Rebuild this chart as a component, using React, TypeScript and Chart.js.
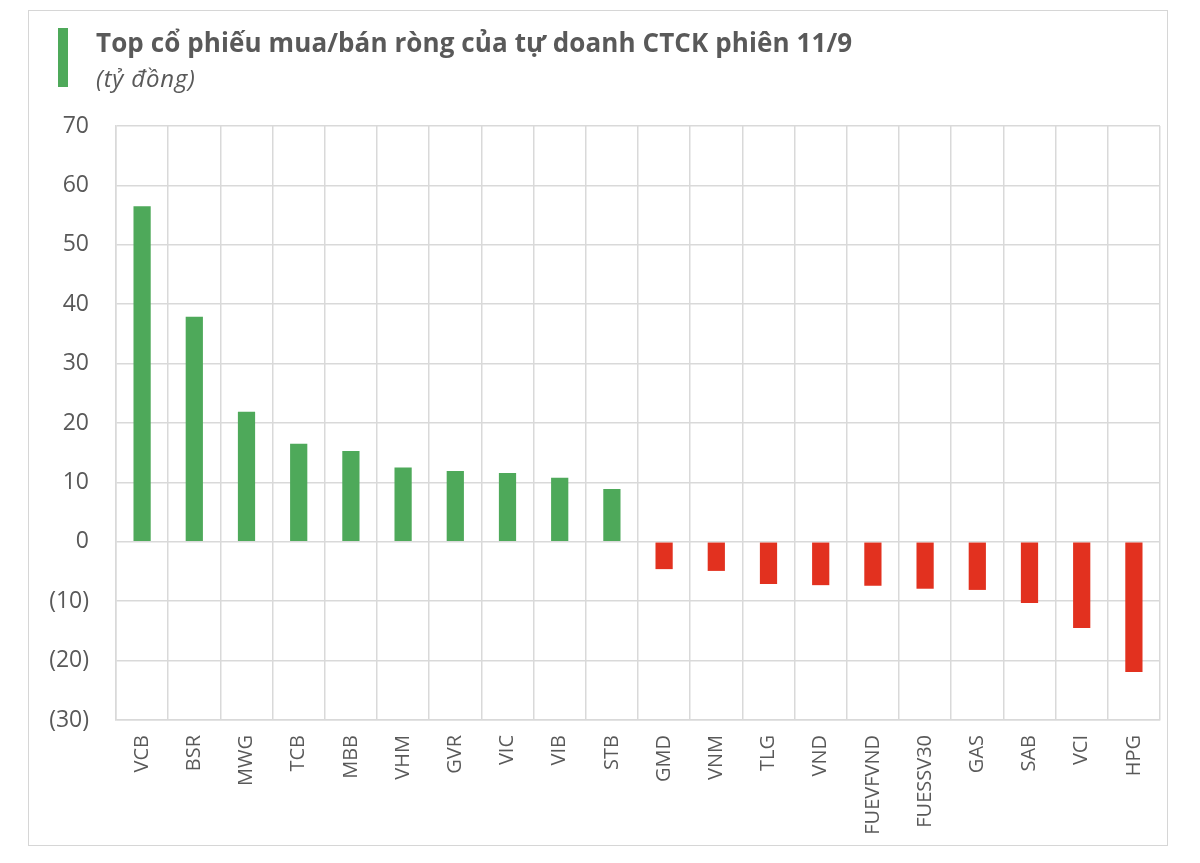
import React, { useEffect, useRef } from "react";
import { Chart, registerables } from "chart.js";

Chart.register(...registerables);

const categories = [
  "VCB", "BSR", "MWG", "TCB", "MBB", "VHM", "GVR", "VIC", "VIB", "STB",
  "GMD", "VNM", "TLG", "VND", "FUEVFVND", "FUESSV30", "GAS", "SAB", "VCI", "HPG",
];
const netValues = [
  56.5, 37.9, 21.9, 16.5, 15.3, 12.5, 11.9, 11.6, 10.8, 8.9,
  -4.6, -4.9, -7.1, -7.3, -7.4, -7.9, -8.1, -10.3, -14.5, -21.9,
];
const yTicks = [-30, -20, -10, 0, 10, 20, 30, 40, 50, 60, 70];
const title = "Top cổ phiếu mua/bán ròng của tự doanh CTCK phiên 11/9";
const subtitle = "(tỷ đồng)";

const GREEN = "#4EA95A";
const RED = "#E2311F";
const GRID = "#d9d9d9";
const TEXT = "#595959";
const FONT = "'Open Sans', 'Noto Sans', sans-serif";

export default function App() {
  const canvasRef = useRef<HTMLCanvasElement | null>(null);

  useEffect(() => {
    document.body.style.margin = "0";
    const ctx = canvasRef.current;
    if (!ctx) return;
    const chart = new Chart(ctx, {
      type: "bar",
      data: {
        labels: categories,
        datasets: [
          {
            data: netValues,
            backgroundColor: netValues.map((v) => (v >= 0 ? GREEN : RED)),
            borderWidth: 0,
            barPercentage: 0.33,
            categoryPercentage: 1,
          },
        ],
      },
      options: {
        animation: false,
        responsive: false,
        maintainAspectRatio: false,
        layout: { padding: { left: 30, right: 40, top: 126, bottom: 0 } },
        plugins: {
          legend: { display: false },
          tooltip: { enabled: false },
        },
        scales: {
          x: {
            grid: { display: true, color: GRID, lineWidth: 1.5, drawTicks: false, offset: true },
            border: { display: true, color: GRID, width: 1.5 },
            ticks: {
              color: TEXT,
              font: { family: FONT, size: 20 },
              minRotation: 90,
              maxRotation: 90,
              autoSkip: false,
              padding: 15,
            },
            afterFit: (scale: any) => {
              scale.height = 143;
            },
          },
          y: {
            min: -30,
            max: 70,
            afterBuildTicks: (scale: any) => {
              scale.ticks = yTicks.map((v) => ({ value: v }));
            },
            grid: { color: GRID, lineWidth: 1.5, drawTicks: false },
            border: { display: true, color: GRID, width: 1.5 },
            ticks: {
              color: TEXT,
              font: { family: FONT, size: 23 },
              padding: 27,
              callback: (v: any) => (Number(v) < 0 ? `(${-Number(v)})` : `${v}`),
            },
            afterFit: (scale: any) => {
              scale.width = 86;
            },
          },
        },
      },
    });
    return () => chart.destroy();
  }, []);

  return (
    <div style={{ position: "relative", width: 1200, height: 863, background: "#fff", fontFamily: FONT }}>
      <div
        style={{
          position: "absolute",
          left: 28,
          top: 10,
          width: 1140,
          height: 836,
          border: "1.5px solid #d6d6d6",
          boxSizing: "border-box",
        }}
      />
      <canvas ref={canvasRef} width={1200} height={863} style={{ position: "absolute", left: 0, top: 0 }} />
      <div style={{ position: "absolute", left: 58, top: 28, width: 10, height: 59, background: GREEN }} />
      <div
        style={{
          position: "absolute",
          left: 96,
          top: 25,
          fontSize: 26,
          fontWeight: 700,
          color: TEXT,
          whiteSpace: "nowrap",
          lineHeight: "34px",
          letterSpacing: "0.1px",
        }}
      >
        {title}
      </div>
      <div
        style={{
          position: "absolute",
          left: 96,
          top: 62,
          fontSize: 24,
          fontStyle: "italic",
          color: TEXT,
          whiteSpace: "nowrap",
          lineHeight: "32px",
          letterSpacing: "0.8px",
        }}
      >
        {subtitle}
      </div>
    </div>
  );
}
